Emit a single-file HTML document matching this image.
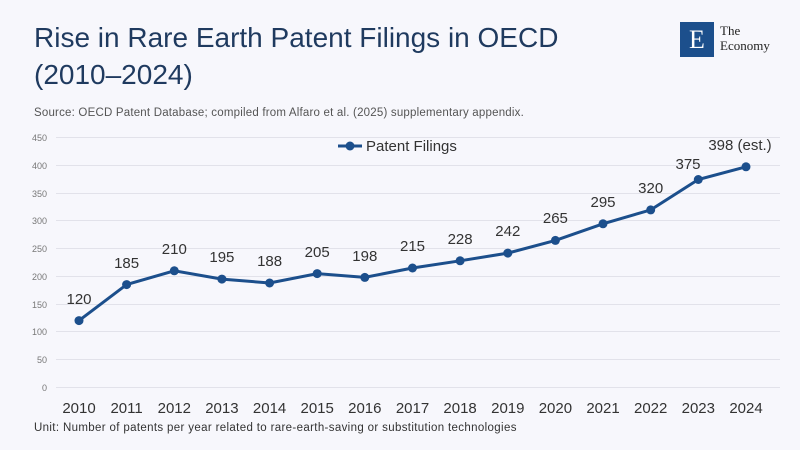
<!DOCTYPE html>
<html><head><style>
body{margin:0;width:800px;height:450px;background:#f7f7fc;font-family:"Liberation Sans",sans-serif;overflow:hidden;position:relative}
.t{position:absolute;left:34px;top:19px;font-size:28px;line-height:37px;color:#1f3a5f;}
.s{position:absolute;left:34px;top:107px;font-size:11.5px;color:#555;letter-spacing:0.2px}
.u{position:absolute;left:34px;top:422px;font-size:11.5px;color:#333;letter-spacing:0.35px}
.logo{position:absolute;left:680px;top:22px;width:34px;height:35px;background:#1c4f8c;color:#fff;font-family:"Liberation Serif",serif;font-size:26px;text-align:center;line-height:36px}
.lt{position:absolute;left:720px;top:23px;font-family:"Liberation Serif",serif;font-size:13px;line-height:15px;color:#222}
</style></head><body>
<div class="t">Rise in Rare Earth Patent Filings in OECD<br>(2010–2024)</div>
<div class="s">Source: OECD Patent Database; compiled from Alfaro et al. (2025) supplementary appendix.</div>
<div class="logo">E</div><div class="lt">The<br>Economy</div>
<svg width="800" height="450" style="position:absolute;left:0;top:0">
<g stroke="#e2e2ea" stroke-width="1">
<line x1="56" x2="780" y1="137.5" y2="137.5"/><line x1="56" x2="780" y1="165.5" y2="165.5"/><line x1="56" x2="780" y1="193.5" y2="193.5"/><line x1="56" x2="780" y1="220.5" y2="220.5"/><line x1="56" x2="780" y1="248.5" y2="248.5"/><line x1="56" x2="780" y1="276.5" y2="276.5"/><line x1="56" x2="780" y1="304.5" y2="304.5"/><line x1="56" x2="780" y1="331.5" y2="331.5"/><line x1="56" x2="780" y1="359.5" y2="359.5"/><line x1="56" x2="780" y1="387.5" y2="387.5"/>
</g>
<g font-size="9" fill="#777" text-anchor="end">
<text x="47" y="141">450</text><text x="47" y="169">400</text><text x="47" y="197">350</text><text x="47" y="224">300</text><text x="47" y="252">250</text><text x="47" y="280">200</text><text x="47" y="308">150</text><text x="47" y="335">100</text><text x="47" y="363">50</text><text x="47" y="391">0</text>
</g>
<g font-size="15" fill="#333" text-anchor="middle">
<text x="79" y="413">2010</text><text x="126.6" y="413">2011</text><text x="174.3" y="413">2012</text><text x="221.9" y="413">2013</text><text x="269.6" y="413">2014</text><text x="317.2" y="413">2015</text><text x="364.8" y="413">2016</text><text x="412.5" y="413">2017</text><text x="460.1" y="413">2018</text><text x="507.8" y="413">2019</text><text x="555.4" y="413">2020</text><text x="603" y="413">2021</text><text x="650.7" y="413">2022</text><text x="698.3" y="413">2023</text><text x="746" y="413">2024</text>
</g>
<polyline fill="none" stroke="#1c4f8c" stroke-width="3" points="79,320.6 126.6,284.6 174.3,270.8 221.9,279.1 269.6,283 317.2,273.6 364.8,277.4 412.5,268 460.1,260.8 507.8,253.1 555.4,240.4 603,223.8 650.7,209.9 698.3,179.5 746,166.8"/>
<g fill="#1c4f8c">
<circle cx="79" cy="320.6" r="4.5"/><circle cx="126.6" cy="284.6" r="4.5"/><circle cx="174.3" cy="270.8" r="4.5"/><circle cx="221.9" cy="279.1" r="4.5"/><circle cx="269.6" cy="283" r="4.5"/><circle cx="317.2" cy="273.6" r="4.5"/><circle cx="364.8" cy="277.4" r="4.5"/><circle cx="412.5" cy="268" r="4.5"/><circle cx="460.1" cy="260.8" r="4.5"/><circle cx="507.8" cy="253.1" r="4.5"/><circle cx="555.4" cy="240.4" r="4.5"/><circle cx="603" cy="223.8" r="4.5"/><circle cx="650.7" cy="209.9" r="4.5"/><circle cx="698.3" cy="179.5" r="4.5"/><circle cx="746" cy="166.8" r="4.5"/>
</g>
<g font-size="15" fill="#333" text-anchor="middle">
<text x="79" y="304">120</text><text x="126.6" y="268">185</text><text x="174.3" y="254">210</text><text x="221.9" y="262">195</text><text x="269.6" y="266">188</text><text x="317.2" y="257">205</text><text x="364.8" y="261">198</text><text x="412.5" y="251">215</text><text x="460.1" y="244">228</text><text x="507.8" y="236">242</text><text x="555.4" y="223">265</text><text x="603" y="207">295</text><text x="650.7" y="193">320</text><text x="688" y="169">375</text><text x="740" y="150">398 (est.)</text>
</g>
<line x1="338" x2="362" y1="146" y2="146" stroke="#1c4f8c" stroke-width="3"/><circle cx="350" cy="146" r="4.5" fill="#1c4f8c"/>
<text x="366" y="151" font-size="15" fill="#333">Patent Filings</text>
</svg>
<div class="u">Unit: Number of patents per year related to rare-earth-saving or substitution technologies</div>
</body></html>
